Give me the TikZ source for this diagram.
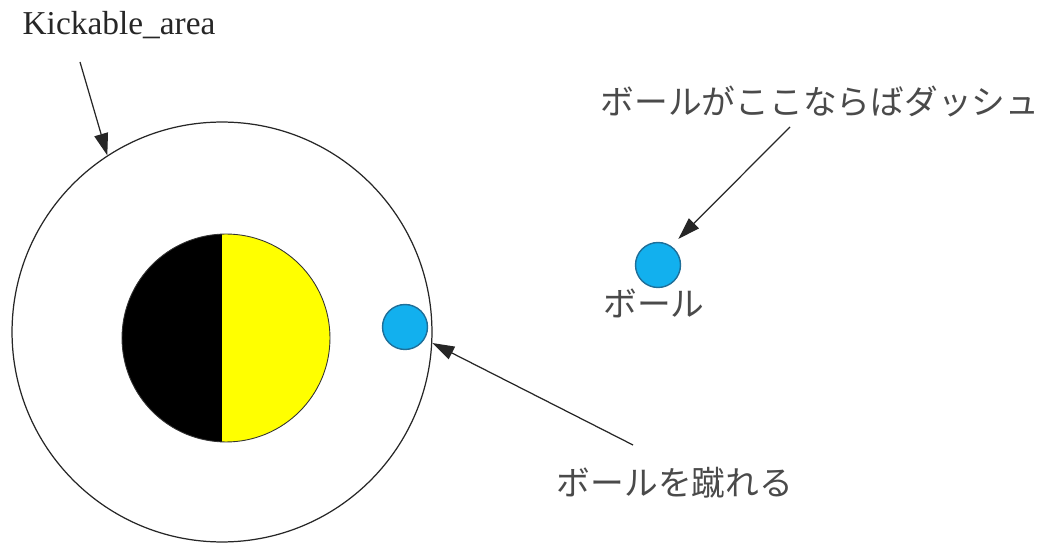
\documentclass[tikz,border=0pt]{standalone}
\usepackage{fontspec}
\setmainfont{Liberation Serif}
\newfontfamily\jpfont{Noto Sans CJK JP}
\usetikzlibrary{arrows.meta, positioning}
\definecolor{cball}{HTML}{12B0EE}
\definecolor{cballedge}{HTML}{1F6F99}
\definecolor{cyellow}{HTML}{FFFF00}
\definecolor{ctext}{HTML}{4A4A4A}
\tikzset{
  every picture/.style={line width=0.7pt},
  ball/.style={circle, draw=cballedge, fill=cball, inner sep=0pt, minimum size=0.9cm, line width=0.8pt},
  jlabel/.style={font=\jpfont\fontsize{19.2}{22}\selectfont, text=ctext, inner sep=1pt},
  elabel/.style={font=\fontsize{19}{22}\selectfont, text=black!85, inner sep=1pt},
  arrow/.style={-{Triangle[length=0.44cm, width=0.28cm]}, draw=black!85, line width=0.7pt},
}
\begin{document}
\begin{tikzpicture}[x=0.02cm, y=-0.02cm]
  \useasboundingbox (0,0) rectangle (1044,546);
  \node[circle, draw=black!85, inner sep=0pt, minimum size=8.4cm] (area) at (222,332) {};
  % player: dark half and yellow half
  \begin{scope}
    \clip (226,338) circle[radius=104];
    \fill[black] (110,225) rectangle (222,450);
    \fill[cyellow] (222,225) rectangle (340,450);
  \end{scope}
  \node[circle, draw=black!80, line width=0.5pt, inner sep=0pt, minimum size=4.16cm] (player) at (226,338) {};
  \node[ball] (nearball) at (405,327) {};
  \node[ball] (farball) at (658,265) {};
  \node[elabel] (areatxt) at (119,25) {Kickable\_area};
  \node[jlabel] (dashtxt) at (820,102) {ボールがここならばダッシュ};
  \node[jlabel] (balltxt) at (654,303) {ボール};
  \node[jlabel] (kicktxt) at (675,483) {ボールを蹴れる};
  \draw[arrow] ([shift={(-39,37)}]areatxt.center) -- (area.123);
  \draw[arrow, shorten >=0.2cm] ([shift={(-30,25)}]dashtxt.center) -- (farball.55);
  \draw[arrow] ([shift={(-42,-38)}]kicktxt.center) -- (area.-3);
\end{tikzpicture}
\end{document}
